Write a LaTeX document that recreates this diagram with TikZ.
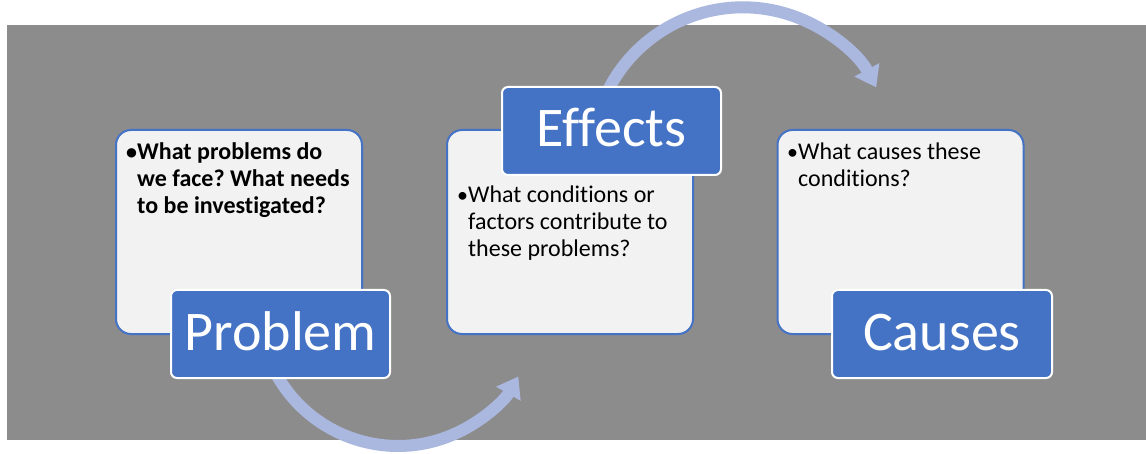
\documentclass[tikz,border=0pt]{standalone}
\usepackage{fontspec}
\setmainfont{Carlito}[Ligatures=NoCommon]
\usetikzlibrary{arrows.meta}
\definecolor{bggray}{RGB}{140,140,140}
\definecolor{boxfill}{RGB}{242,242,242}
\definecolor{accentblue}{RGB}{68,114,196}
\definecolor{arrowblue}{RGB}{170,183,222}
\tikzset{
  infobox/.style={draw=accentblue, line width=2pt, fill=boxfill, rounded corners=15pt,
    minimum width=246pt, minimum height=204pt, inner sep=0pt},
  labelbox/.style={draw=white, line width=2pt, fill=accentblue, rounded corners=6pt,
    minimum width=219pt, minimum height=88pt, inner sep=0pt, text=white,
    font=\fontsize{56}{60}\selectfont, text height=32pt, text depth=0pt},
  bodytext/.style={anchor=base west, inner sep=0pt, text=black,
    font=\fontsize{24}{26.7}\selectfont\frenchspacing},
  flowarrow/.style={draw=arrowblue, line width=12pt,
    -{Triangle[width=27pt,length=20pt]}}
}
\newcommand{\bulletlines}[1]{\begin{tabular}[t]{@{}p{11pt}@{}l@{}}#1\end{tabular}}
\newcommand{\bul}{{\fontsize{22}{22}\selectfont •}}
\begin{document}
\begin{tikzpicture}[x=1pt,y=1pt]
\useasboundingbox (0,0) rectangle (1146,453);
\fill[white] (0,0) rectangle (1146,453);
\fill[bggray] (7,13) rectangle (1146,428);
% arrows (behind boxes)
\coordinate (a1s) at (272.0,87.3);
\coordinate (a2s) at (601.0,346.3);
\draw[flowarrow] (a1s) arc[start angle=205, end angle=330, radius=139];
\draw[flowarrow] (a2s) arc[start angle=160, end angle=28, radius=151];
% content boxes
\node[infobox] (b1) at (239,221) {};
\node[infobox] (b2) at (570,221) {};
\node[infobox] (b3) at (900.5,221) {};
% labels
\node[labelbox] (l1) at (280.5,119) {Problem};
\node[labelbox] (l2) at (611.5,322) {Effects};
\node[labelbox, minimum width=220pt] (l3) at (942,119) {Causes};
% texts
\node[bodytext, font=\fontsize{24}{26.7}\selectfont\bfseries\frenchspacing] (t1) at (126,293)
  {\bulletlines{\bul&What problems do\\ &we face? What needs\\ &to be investigated?}};
\node[bodytext] (t2) at (457,250)
  {\bulletlines{\bul&What conditions or\\ &factors contribute to\\ &these problems?}};
\node[bodytext] (t3) at (787,293)
  {\bulletlines{\bul&What causes these\\ &conditions?}};
\end{tikzpicture}
\end{document}
